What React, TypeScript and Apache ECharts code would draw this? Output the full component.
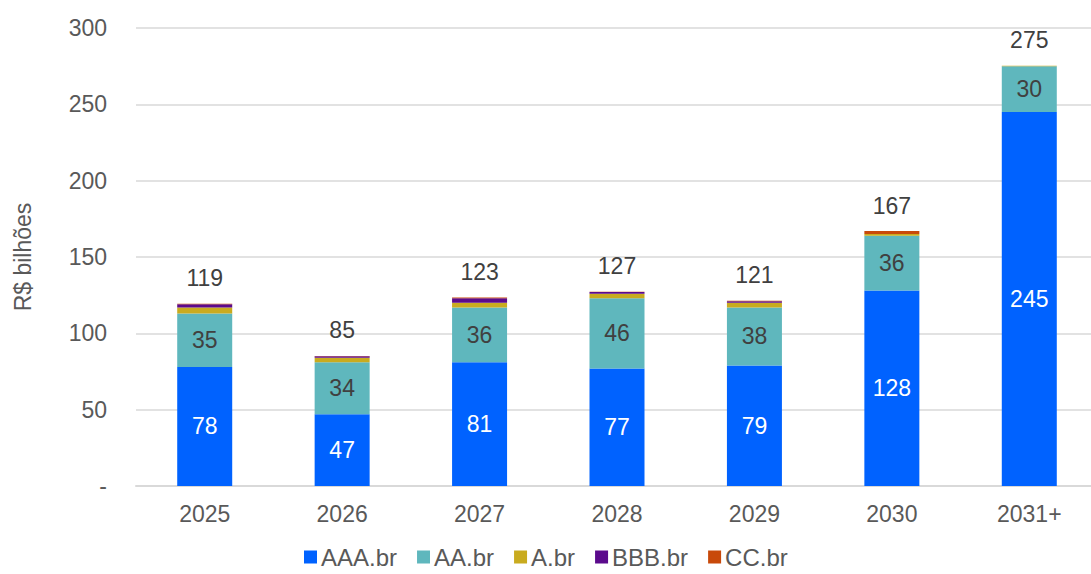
import React, { useEffect, useRef } from "react";
import * as echarts from "echarts";

const categories = ["2025", "2026", "2027", "2028", "2029", "2030", "2031+"];
const aaa = [78, 47, 81, 77, 79, 128, 245];
const aa = [35, 34, 36, 46, 38, 36, 30];
const aBr = [4, 3, 3, 3, 3, 1, 0.3];
const bbb = [2, 1, 3, 1, 1, 0, 0];
const cc = [0.3, 0.2, 0.4, 0.2, 0.4, 2, 0];
const totals = [119, 85, 123, 127, 121, 167, 275];
const yTicks = [0, 50, 100, 150, 200, 250, 300];

const FONT = "Liberation Sans, Arial, sans-serif";

export default function App() {
  const ref = useRef<HTMLDivElement>(null);
  useEffect(() => {
    if (!ref.current) return;
    document.body.style.margin = "0";
    document.body.style.overflow = "hidden";
    const chart = echarts.init(ref.current, null, { renderer: "svg" });
    const inner = (color: string) => ({
      show: true,
      position: "inside" as const,
      color,
      fontSize: 23,
      fontFamily: FONT,
    });
    chart.setOption({
      animation: false,
      textStyle: { fontFamily: FONT },
      grid: { left: 136, right: 0, top: 28, bottom: 88, containLabel: false },
      legend: {
        data: ["AAA.br", "AA.br", "A.br", "BBB.br", "CC.br"],
        bottom: 0,
        left: 299,
        icon: "rect",
        itemWidth: 13,
        itemHeight: 13,
        itemGap: 20,
        textStyle: { fontSize: 24, color: "#595959", fontFamily: FONT, padding: [0, 0, 0, -1] },
      },
      xAxis: {
        type: "category",
        data: categories,
        axisLine: { lineStyle: { color: "#d9d9d9", width: 2 } },
        axisTick: { show: false },
        axisLabel: { fontSize: 23, color: "#595959", margin: 16, fontFamily: FONT },
      },
      yAxis: {
        type: "value",
        min: yTicks[0],
        max: yTicks[yTicks.length - 1],
        interval: 50,
        name: "R$ bilhões",
        nameLocation: "middle",
        nameGap: 102,
        nameTextStyle: { fontSize: 23, color: "#595959", fontFamily: FONT },
        axisLine: { show: false },
        axisTick: { show: false },
        splitLine: { lineStyle: { color: "#d9d9d9", width: 1.5 } },
        axisLabel: {
          fontSize: 23,
          color: "#595959",
          margin: 29,
          fontFamily: FONT,
          formatter: (v: number) => (v === 0 ? "-" : String(v)),
        },
      },
      series: [
        {
          name: "AAA.br",
          type: "bar",
          stack: "t",
          barWidth: 55,
          data: aaa,
          itemStyle: { color: "#0062FF" },
          label: inner("#ffffff"),
        },
        {
          name: "AA.br",
          type: "bar",
          stack: "t",
          data: aa,
          itemStyle: { color: "#5FB7BD" },
          label: inner("#404040"),
        },
        { name: "A.br", type: "bar", stack: "t", data: aBr, itemStyle: { color: "#C9AB1F" } },
        { name: "BBB.br", type: "bar", stack: "t", data: bbb, itemStyle: { color: "#5B0A8C" } },
        { name: "CC.br", type: "bar", stack: "t", data: cc, itemStyle: { color: "#C8490A" } },
        {
          name: "Total",
          type: "bar",
          stack: "t",
          data: totals.map(() => 0),
          itemStyle: { color: "transparent" },
          label: {
            show: true,
            position: "top",
            distance: 14,
            fontSize: 23,
            color: "#404040",
            fontFamily: FONT,
            formatter: (p: any) => String(totals[p.dataIndex]),
          },
        },
      ],
    });
    return () => chart.dispose();
  }, []);
  return <div ref={ref} style={{ position: "absolute", left: 0, top: 0, width: 1098, height: 574 }} />;
}
